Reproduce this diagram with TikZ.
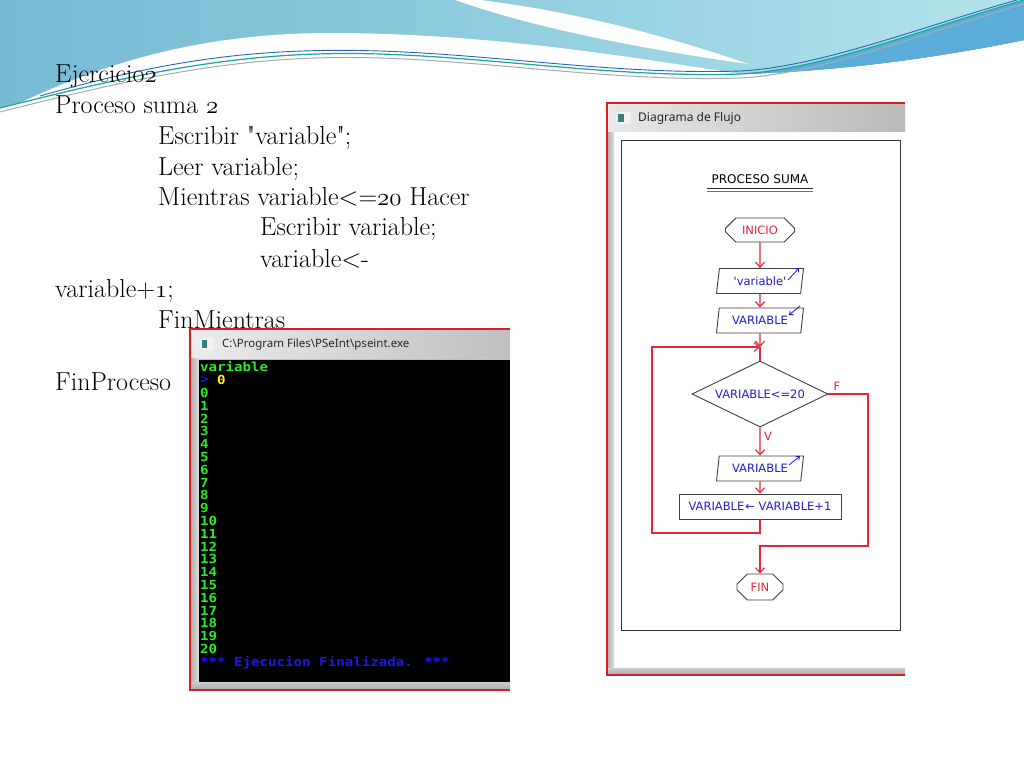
\documentclass[tikz,border=0pt]{standalone}
\usepackage{fontspec}
\newfontfamily\flowfont{DejaVu Sans}
\newfontfamily\consfont{DejaVu Sans Mono}[FakeStretch=1.13]
\newfontfamily\winfont{Noto Sans}
\usetikzlibrary{shapes.geometric,shapes.misc,arrows.meta}
\newcommand\osn[1]{{\usefont{OML}{cmm}{m}{it}#1}}
\definecolor{wblue}{RGB}{118,186,212}
\definecolor{wmid}{RGB}{145,205,224}
\definecolor{wlight}{RGB}{180,228,236}
\definecolor{wdark}{RGB}{92,172,218}
\definecolor{lteal}{RGB}{20,170,150}
\definecolor{lblue}{RGB}{40,100,185}
\definecolor{lgray}{RGB}{165,170,175}
\definecolor{fred}{RGB}{228,38,56}
\definecolor{fblue}{RGB}{30,30,205}
\definecolor{cgreen}{RGB}{40,235,40}
\definecolor{cblue}{RGB}{25,25,225}
\definecolor{cyellow}{RGB}{245,240,20}
\definecolor{wred}{RGB}{215,30,35}
\tikzset{
  maintext/.style={anchor=base west, inner sep=0pt, font=\fontsize{26}{30}\selectfont},
  ftext/.style={font=\flowfont\fontsize{11.5}{13}\selectfont, text=fblue},
  shapeline/.style={draw=black!75, line width=0.9pt},
  termbox/.style={shapeline, chamfered rectangle, chamfered rectangle xsep=6pt, chamfered rectangle ysep=6pt, inner sep=0pt, minimum height=24pt, ftext, text=fred},
  iobox/.style={shapeline, trapezium, trapezium left angle=72, trapezium right angle=108, trapezium stretches body, inner sep=0pt, minimum height=25pt, minimum width=87pt, ftext},
  procbox/.style={shapeline, rectangle, inner sep=0pt, minimum width=162pt, minimum height=25pt, ftext},
  decbox/.style={shapeline, diamond, aspect=2.06, inner sep=0pt, minimum width=136pt, minimum height=66pt, ftext},
  conn/.style={draw=fred, line width=1.1pt},
  arr/.style={conn, -{Straight Barb[length=5pt,width=9pt]}},
  iomark/.style={draw=fblue, line width=0.8pt, -{Straight Barb[length=3pt,width=5pt]}},
  cons/.style={anchor=west, inner sep=0pt, font=\consfont\bfseries\fontsize{12.5}{12.5}\selectfont, text=cgreen},
  wintitle/.style={anchor=west, inner sep=0pt, font=\winfont\fontsize{12}{14}\selectfont, text=black!85},
  flabel/.style={inner sep=0pt, font=\flowfont\fontsize{11.5}{13}\selectfont, text=fred},
}
\begin{document}
\begin{tikzpicture}[x=1pt,y=-1pt]
\useasboundingbox (0,0) rectangle (1024,768);
\fill[white] (0,0) rectangle (1024,768);
% ---------- background wave ----------
\fill[left color=wblue, right color=wlight, middle color=wmid] (0,0) -- (1024,0) -- (1024,40)
  .. controls (950,55) and (850,71) .. (740,74)
  .. controls (620,78) and (500,58) .. (380,54)
  .. controls (250,50) and (150,70) .. (0,108) -- cycle;
\fill[wdark] (740,74) .. controls (850,71) and (950,55) .. (1024,40) -- (1024,0)
  .. controls (920,30) and (820,70) .. (740,74) -- cycle;
\fill[white] (20,103) .. controls (120,55) and (220,33) .. (330,33)
  .. controls (480,33) and (620,55) .. (740,74)
  .. controls (620,78) and (500,58) .. (380,54)
  .. controls (250,50) and (150,70) .. (0,108) -- cycle;
\fill[white] (480,0) .. controls (580,12) and (680,40) .. (748,64)
  .. controls (650,50) and (540,30) .. (455,0) -- cycle;
\draw[lgray, line width=1pt] (0,112) .. controls (150,74) and (250,54) .. (380,58)
  .. controls (500,62) and (620,82) .. (740,78) .. controls (820,74) and (920,34) .. (1024,4);
\draw[lteal, line width=1.2pt] (0,108) .. controls (150,70) and (250,50) .. (380,54)
  .. controls (500,58) and (620,78) .. (740,74) .. controls (820,70) and (920,30) .. (1024,0);
\draw[lblue, line width=0.9pt] (40,96) .. controls (160,62) and (250,47) .. (380,51)
  .. controls (500,55) and (620,75) .. (740,71) .. controls (820,67) and (920,27) .. (1024,-2);
% ---------- slide text ----------
\node[maintext] (t1) at (55,82) {Ejercicio\osn{2}};
\node[maintext] (t2) at (55,113) {Proceso suma \osn{2}};
\node[maintext] (t3) at (158,144) {Escribir \textquotedbl variable\textquotedbl;};
\node[maintext] (t4) at (158,175) {Leer variable;};
\node[maintext] (t5) at (158,205) {Mientras variable<=\osn{20} Hacer};
\node[maintext] (t6) at (260,235) {Escribir variable;};
\node[maintext] (t7) at (260,267) {variable<-};
\node[maintext] (t8) at (55,297) {variable+\osn{1};};
\node[maintext] (t9) at (158,328) {FinMientras};
\node[maintext] (t10) at (55,390) {FinProceso};
% ---------- flowchart window ----------
\fill[gray!50] (607,103) rectangle (905,675);
\shade[left color=gray!18, right color=gray!55] (607,103) rectangle (905,132);
\shade[left color=gray!65, right color=gray!25] (607,132) rectangle (614,668);
\fill[white] (614,132) rectangle (905,668);
\shade[top color=gray!40, bottom color=gray!70] (607,668) rectangle (905,675);
\draw[black!80, line width=0.8pt] (621,140) rectangle (900,630);
\draw[wred, line width=2pt] (905,103) -- (607,103) -- (607,675) -- (905,675);
\fill[gray!10] (616,112) rectangle (631,124);
\fill[teal!60!gray] (618,114) rectangle (624,122);
\node[wintitle] (ftitle) at (638,118) {Diagrama de Flujo};
% flowchart
\node[ftext, text=black, font=\flowfont\fontsize{12}{14}\selectfont] (ptitle) at (760,179) {PROCESO SUMA};
\draw[black!85, line width=1pt] (707,188) -- (813,188);
\draw[black!55, line width=1pt] (707,191) -- (813,191);
\node[termbox, minimum width=69pt] (ini) at (760,230) {INICIO};
\node[iobox] (v1) at (760,281) {\textquotesingle variable\textquotesingle};
\node[iobox] (v2) at (760,320.5) {VARIABLE};
\node[decbox] (dec) at (760,394) {VARIABLE<=20};
\node[iobox] (v3) at (760,468.5) {VARIABLE};
\node[procbox] (asg) at (760,506.5) {VARIABLE\kern1pt←\space VARIABLE+1};
\node[termbox, minimum width=46pt, minimum height=26pt] (fin) at (760,587) {FIN};
\draw[iomark] ([shift={(28,-1)}]v1.center) -- ([shift={(39,-13)}]v1.center);
\draw[iomark] ([shift={(40,-14.5)}]v2.center) -- ([shift={(29,-5.5)}]v2.center);
\draw[iomark] ([shift={(29,-3.5)}]v3.center) -- ([shift={(40,-12.5)}]v3.center);
\coordinate (j) at (760,347);
\coordinate (l1) at (760,533);
\coordinate (l2) at (652,533);
\coordinate (l3) at (652,347);
\coordinate (r1) at (868,394);
\coordinate (r2) at (868,546);
\coordinate (r3) at (760,546);
\draw[arr] (ini.south) -- (v1.north);
\draw[arr] (v1.south) -- (v2.north);
\draw[arr] (v2.south) -- (j);
\draw[conn] (j) -- (dec.north);
\draw[arr] (dec.south) -- (v3.north);
\draw[arr] (v3.south) -- (asg.north);
\draw[arr] (asg.south) -- (l1) -- (l2) -- (l3) -- (j);
\draw[arr] (dec.east) -- (r1) -- (r2) -- (r3) -- (fin.north);
\node[flabel] (lf) at (837,386) {F};
\node[flabel] (lv) at (768,436) {V};
% ---------- console window ----------
\fill[gray!50] (190,329) rectangle (510,690);
\shade[left color=gray!15, right color=gray!50] (190,329) rectangle (510,358);
\shade[left color=gray!65, right color=gray!25] (190,358) rectangle (199,682);
\fill[black] (199,360) rectangle (510,682);
\shade[top color=gray!40, bottom color=gray!70] (190,682) rectangle (510,690);
\draw[wred, line width=2pt] (510,329) -- (190,329) -- (190,690) -- (510,690);
\fill[gray!10] (200,338) rectangle (214,350);
\fill[teal!60!gray] (202,340) rectangle (207,348);
\node[wintitle, font=\winfont\fontsize{11.5}{13}\selectfont] (ctitle) at (222,345) {C:\textbackslash Program Files\textbackslash PSeInt\textbackslash pseint.exe};
\node[cons] (cv) at (200,367) {variable};
\node[cons, text=cblue] (cp) at (200,380) {>};
\node[cons, text=cyellow] (cin) at (217,380) {0};
\foreach \k in {0,...,20} \node[cons] (n\k) at (200,{393+12.8*\k}) {\k};
\node[cons, text=cblue] (cend) at (200,663) {*** Ejecucion Finalizada. ***};
\end{tikzpicture}
\end{document}
